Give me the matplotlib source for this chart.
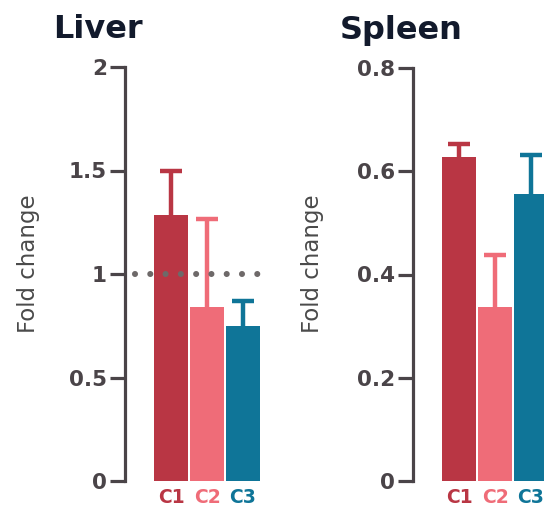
import matplotlib
matplotlib.use("Agg")
import matplotlib.pyplot as plt

# bar data
groups = ["C1", "C2", "C3"]
liver_mean = [1.285, 0.84, 0.75]
liver_err = [0.215, 0.425, 0.12]
spleen_mean = [0.628, 0.338, 0.555]
spleen_err = [0.024, 0.100, 0.077]
colors = ["#b93644", "#ef6c78", "#0f7598"]

liver_ticks = [0, 0.5, 1, 1.5, 2]
liver_ticklabels = ["0", "0.5", "1", "1.5", "2"]
spleen_ticks = [0, 0.2, 0.4, 0.6, 0.8]
spleen_ticklabels = ["0", "0.2", "0.4", "0.6", "0.8"]

plt.rcParams['font.family'] = ['DejaVu Sans']
axis_col = "#4a4448"
title_col = "#121a2c"

fig = plt.figure(figsize=(5.44, 5.08), dpi=100)
fig.patch.set_facecolor("white")

W, H = 544.0, 508.0
ax1 = fig.add_axes([125 / W, 27 / H, 140 / W, 414 / H])
ax2 = fig.add_axes([413 / W, 27 / H, 140 / W, 413 / H])


def draw_panel(ax, means, errs, ticks, ticklabels, ymax):
    x = list(range(len(groups)))
    ax.bar(x, means, width=0.92, color=colors, zorder=2)
    # upper error bars only: stem + cap
    tops = [m + e for m, e in zip(means, errs)]
    ax.vlines(x, means, tops, colors=colors, linewidth=3.2, zorder=1)
    ax.hlines(tops, [i - 0.31 for i in x], [i + 0.31 for i in x],
              colors=colors, linewidth=3.2, zorder=1)
    ax.set_xlim(-1.278, 2.61)
    ax.set_ylim(0, ymax)
    for s in ["top", "right", "bottom"]:
        ax.spines[s].set_visible(False)
    ax.spines["left"].set_color(axis_col)
    ax.spines["left"].set_linewidth(2.3)
    ax.set_yticks(ticks)
    ax.set_yticklabels(ticklabels, fontsize=15.5, fontweight="heavy", color="#4a4448")
    ax.tick_params(axis="y", length=10.5, width=2.3, color=axis_col, pad=2.5)
    ax.set_xticks(x)
    ax.set_xticklabels(groups, fontsize=13.5, fontweight="heavy")
    for lab, c in zip(ax.get_xticklabels(), colors):
        lab.set_color(c)
    ax.tick_params(axis="x", length=0, pad=5)
    ax.set_facecolor("white")


draw_panel(ax1, liver_mean, liver_err, liver_ticks, liver_ticklabels, 2)
draw_panel(ax2, spleen_mean, spleen_err, spleen_ticks, spleen_ticklabels, 0.8)

# reference line at fold change 1
ax1.plot([-1.0, 2.53], [1, 1], color="#6e6969", linewidth=4.4,
         linestyle=(0, (0.001, 2.5)), dash_capstyle="round", zorder=3)

fig.text(53 / W, 1 - 30 / H, "Liver", fontsize=23, fontweight="heavy",
         color=title_col, va="center", ha="left")
fig.text(340 / W, 1 - 30 / H, "Spleen", fontsize=23, fontweight="heavy",
         color=title_col, va="center", ha="left")

fig.text(28 / W, 1 - 264 / H, "Fold change", fontsize=16.5, rotation=90,
         color="#4a4a4a", va="center", ha="center")
fig.text(312 / W, 1 - 264 / H, "Fold change", fontsize=16.5, rotation=90,
         color="#4a4a4a", va="center", ha="center")

fig.savefig("out.png", dpi=100, facecolor="white")
